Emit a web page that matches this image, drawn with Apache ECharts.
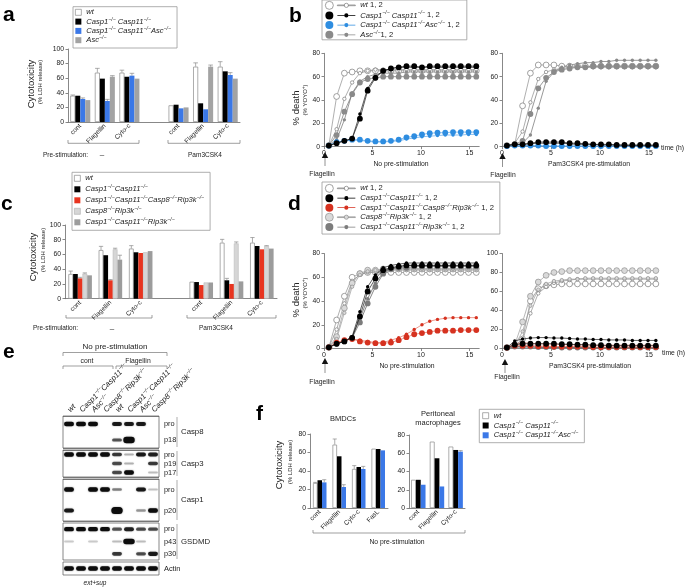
<!DOCTYPE html>
<html><head><meta charset="utf-8">
<script src="https://cdn.jsdelivr.net/npm/echarts@6/dist/echarts.min.js"></script>
<style>html,body{margin:0;padding:0;background:#fff}#c{width:685px;height:587px}</style>
</head><body><div id="c"></div><script>
const FONT = '"Liberation Sans", Arial, Helvetica, sans-serif';
const TXT = '#222';
const AX = '#6a6a6a';

// ================= DATA =================
// ---- panel a (cytotoxicity, % LDH release) ----
const catsA = ['cont', 'Flagellin', 'Cyto-c', '', 'cont ', 'Flagellin ', 'Cyto-c '];
const a_wt   = [36, 67.6, 67.6, null, 22.8, 75.8, 75.8];
const a_wtE  = [37, 73.5, 71, null, null, 81, 82.6];
const a_dko  = [36, 59.4, 62, null, 23.7, 25.6, 69.4];
const a_dkoE = [null, null, null, null, null, null, null];
const a_tko  = [31.5, 28.8, 63.5, null, 18.7, 17.4, 64.4];
const a_tkoE = [33, 31, 66.7, null, null, null, 67.6];
const a_asc  = [30, 62, 59.4, null, 20, 75.8, 59.4];
const a_ascE = [null, 63.5, null, null, null, 78, null];

// ---- panel c ----
const catsC = ['cont', 'Flagellin', 'Cyto-c', '', 'cont ', 'Flagellin ', 'Cyto-c '];
const c_wt   = [33.5, 66, 68, null, 23, 76, 76];
const c_wtE  = [37.5, 71, 72, null, null, 80.5, 83];
const c_dko  = [33.5, 59, 63, null, 22.6, 25, 71.5];
const c_dkoE = [null, null, null, null, null, 27.6, null];
const c_red  = [27.6, 25, 62, null, 18.5, 20, 67];
const c_redE = [29, 26, null, null, null, null, null];
const c_c8   = [34, 67, 63, null, 22, 75, 71.5];
const c_c8E  = [35, 68.5, null, null, null, 77, 72];
const c_r3   = [31.7, 53, 64.6, null, 22, 23.5, 68];
const c_r3E  = [null, 59, null, null, null, null, null];

// ---- panel f ----
const catsF1 = ['cont', 'Flagellin', 'Cyto-c', 'FasL'];
const f1_wt   = [27, 68.5, 42.2, 64.1];
const f1_wtE  = [27.7, 74.6, 45.8, null];
const f1_dko  = [30, 55.9, 44.3, 63.8];
const f1_dkoE = [null, null, null, null];
const f1_tko  = [27.7, 22.7, 42.2, 62.3];
const f1_tkoE = [30.6, 25.2, 45, null];
const catsF2 = ['cont', 'Flagellin', 'Cyto-c'];
const f2_wt   = [30.9, 72.7, 67.3];
const f2_wtE  = [null, null, null];
const f2_dko  = [30.9, 54.5, 63.6];
const f2_dkoE = [null, null, null];
const f2_tko  = [25.5, 23.6, 61.8];
const f2_tkoE = [null, null, 62.9];

// ---- panels b & d (time courses, % death) ----
const times = [0.5, 1.3, 2.1, 2.9, 3.7, 4.5, 5.3, 6.1, 6.9, 7.7, 8.5, 9.3, 10.1, 10.9, 11.7, 12.5, 13.3, 14.1, 14.9, 15.7];
const xTickVals = [0, 5, 10, 15];
// b, no pre-stimulation
const b1_wt1  = [1, 43, 63, 64, 65, 65, 65, 65, 65, 65, 65, 65, 65, 65, 65, 65, 65, 65, 65, 65];
const b1_wt2  = [1, 15, 41, 55, 63, 65, 66, 66, 66, 66, 66, 66, 66, 66, 66, 66, 66, 66, 66, 66];
const b1_dko1 = [1, 3, 5, 7, 24, 48, 59, 65, 67, 68, 69, 69, 68, 69, 69, 69, 69, 69, 69, 69];
const b1_dko2 = [1, 3, 5, 7, 28, 50, 60, 65, 67, 68, 68, 68, 68, 68, 68, 68, 68, 68, 68, 68];
const b1_tko1 = [1, 4, 5, 6, 6, 5, 4.5, 4.5, 5, 6, 8, 9, 10.5, 11.5, 12, 12, 12.5, 12.5, 12.5, 12.5];
const b1_tko2 = [1, 4, 5, 5.5, 5.5, 4.5, 4, 4, 4.5, 5, 6.5, 7.5, 8.5, 9, 9.5, 10, 10, 10, 10.5, 10.5];
const b1_asc1 = [1, 10, 30, 45, 55, 58, 59, 60, 60, 60, 60, 60, 60, 60, 60, 60, 60, 60, 60, 60];
const b1_asc2 = [1, 6, 23, 46, 56, 60, 62, 63, 63, 63, 64, 64, 64, 64, 64, 64, 64, 64, 64, 64];
// b, Pam3CSK4 pre-stimulation
const b2_wt1  = [1, 2, 35, 63, 70, 70, 70, 69, 69, 69, 69, 69, 69, 69, 69, 69, 69, 69, 69, 69];
const b2_wt2  = [1, 3, 13, 38, 58, 64, 66, 67, 68, 68, 68, 68, 68, 68, 68, 68, 68, 68, 68, 68];
const b2_dko1 = [1, 2, 2, 3, 4, 4, 4, 4, 3, 3, 2.5, 2, 2, 2, 1.5, 1.5, 1.5, 1.5, 1.5, 1.5];
const b2_dko2 = [1, 2, 2, 2.5, 3, 3, 3, 3, 2.5, 2, 2, 2, 1.5, 1.5, 1.5, 1, 1, 1, 1, 1];
const b2_tko1 = [0.5, 1, 1, 1, 1, 0.5, 0.5, 0.5, 0.5, 0.5, 0.5, 0.5, 0.5, 0.5, 0.5, 0.5, 0.5, 0.5, 0.5, 0.5];
const b2_tko2 = [0.5, 0.5, 0.5, 0.5, 0.5, 0.5, 0.5, 0.5, 0.5, 0.5, 0.5, 0.5, 0.5, 0.5, 0.5, 0.5, 0.5, 0.5, 0.5, 0.5];
const b2_asc1 = [1, 2, 5, 28, 50, 59, 64, 66, 67, 68, 68, 69, 69, 69, 69, 69, 69, 69, 69, 69];
const b2_asc2 = [1, 1, 3, 10, 33, 56, 64, 68, 70, 71, 72, 72, 73, 73, 74, 74, 74, 74, 74, 74];
// d, no pre-stimulation
const d1_wt1  = [1, 24, 44, 60, 63, 64, 64, 64, 64, 64, 64, 64, 64, 64, 64, 64, 64, 64, 64, 64];
const d1_wt2  = [1, 16, 38, 57, 62, 64, 65, 65, 66, 66, 66, 66, 66, 66, 66, 66, 66, 66, 66, 66];
const d1_dko1 = [1, 4, 6, 9, 27, 48, 59, 66, 68, 69, 70, 70, 70, 70, 70, 70, 70, 70, 70, 70];
const d1_dko2 = [1, 4, 6, 10, 31, 52, 62, 68, 70, 71, 72, 72, 72, 72, 72, 72, 72, 72, 72, 72];
const d1_red1 = [1, 5, 7, 8, 6, 5, 4.5, 4.5, 5, 7, 9.5, 12, 13, 14, 15, 15, 15, 15.5, 15.5, 15.5];
const d1_red2 = [1, 5, 7, 8, 7, 6, 5, 5, 7, 9, 12, 16, 20, 23, 24.5, 25.5, 26, 26, 26, 26];
const d1_c81  = [1, 10, 34, 55, 63, 66, 66, 67, 67, 67, 67, 67, 67, 67, 67, 67, 67, 67, 67, 67];
const d1_c82  = [1, 8, 30, 52, 62, 65, 66, 66, 67, 67, 67, 67, 67, 67, 67, 67, 67, 67, 67, 67];
const d1_r31  = [1, 4, 6, 9, 22, 38, 52, 63, 67, 68, 68, 69, 69, 69, 69, 69, 69, 69, 69, 69];
const d1_r32  = [1, 4, 6, 10, 25, 42, 55, 64, 68, 69, 70, 70, 70, 70, 70, 70, 70, 70, 70, 70];
// d, Pam3CSK4 pre-stimulation
const d2_wt1  = [1, 3, 10, 50, 63, 66, 67, 68, 68, 68, 68, 68, 68, 68, 68, 68, 68, 68, 68, 68];
const d2_wt2  = [1, 2, 8, 37, 58, 65, 69, 71, 72, 73, 73, 73, 73, 73, 73, 73, 73, 73, 73, 73];
const d2_dko1 = [1, 4, 5, 5, 5, 5, 5, 4.5, 4.5, 4, 4, 3.5, 3.5, 3, 3, 3, 3, 3, 3, 3];
const d2_dko2 = [1, 8, 10, 11, 11.5, 11.5, 11, 11, 10.5, 10, 10, 9.5, 9.5, 9, 9, 9, 8.5, 8.5, 8.5, 8.5];
const d2_red1 = [1, 3, 3, 3, 2.5, 2.5, 2, 2, 2, 2, 2, 1.5, 1.5, 1.5, 1.5, 1.5, 1.5, 1.5, 1.5, 1.5];
const d2_red2 = [1, 5, 6, 5.5, 5, 5, 4.5, 4.5, 4, 4, 4, 3.5, 3.5, 3.5, 3.5, 3.5, 3.5, 3.5, 3.5, 3.5];
const d2_c81  = [1, 4, 28, 55, 70, 77, 80, 81, 82, 82, 82, 82, 82, 82, 82, 82, 82, 82, 82, 82];
const d2_c82  = [1, 3, 18, 45, 62, 68, 71, 72, 73, 73, 74, 74, 74, 74, 74, 74, 74, 74, 74, 74];
const d2_r31  = [1, 2, 2, 2, 1.5, 1.5, 1.5, 1, 1, 1, 1, 1, 1, 1, 1, 1, 1, 1, 1, 1];
const d2_r32  = [1, 1.5, 1.5, 1.5, 1, 1, 1, 1, 1, 0.5, 0.5, 0.5, 0.5, 0.5, 0.5, 0.5, 0.5, 0.5, 0.5, 0.5];

// ---- panel e (immunoblot band intensities per lane) ----
const lanes = ['wt', 'dko', 'asc', 'c8', 'wt ', 'dko ', 'asc ', 'c8 '];
const casp8Rows = ['pro', 'p18'];
const casp8_pro = [1, 1, 1, 0, 0.9, 0.9, 0.9, 0];
const casp8_p18 = [0, 0, 0, 0, 0.55, 1.6, 0, 0];
const casp3Rows = ['pro', 'p19', 'p17'];
const casp3_pro = [1, 1, 1, 1, 0.7, 0.15, 0.9, 0.85];
const casp3_p19 = [0, 0, 0, 0, 0.6, 0.15, 0, 0.7];
const casp3_p17 = [0, 0, 0, 0, 0.6, 1, 0, 0.1];
const casp1Rows = ['pro', 'p20'];
const casp1_pro = [1, 0, 1, 1, 0.35, 0, 0.9, 0.08];
const casp1_p20 = [0.9, 0, 0, 0, 1.8, 0, 0.25, 1];
const gsdmdRows = ['pro', 'p43', 'p30'];
const gsdmd_pro = [1, 1, 1, 1, 0.55, 0.85, 0.6, 0.6];
const gsdmd_p43 = [0.05, 0, 0.05, 0, 0.1, 1.4, 0.1, 0];
const gsdmd_p30 = [0, 0, 0, 0, 0.7, 0, 0.6, 0.9];
const actinRows = ['Actin'];
const actin_row = [1, 1, 1, 1, 1, 1, 1, 1];

// ================= STYLES / HELPERS =================
const ST = {
  wt:  {color: '#ffffff', borderColor: '#8a8a8a', borderWidth: 0.7},
  dko: {color: '#000000'},
  tko: {color: '#3b78e7'},
  asc: {color: '#a3a3a3'},
  red: {color: '#e8341f'},
  c8:  {color: '#d6d6d6', borderColor: '#b4b4b4', borderWidth: 0.5},
  r3:  {color: '#9c9c9c'}
};
const LS = {
  wt:  {item: {color: '#fff', borderColor: '#7a7a7a', borderWidth: 0.7}, line: '#8c8c8c'},
  dko: {item: {color: '#000', borderWidth: 0}, line: '#1a1a1a'},
  tko: {item: {color: '#2e8de0', borderWidth: 0}, line: '#5aa5e8'},
  asc: {item: {color: '#8a8a8a', borderWidth: 0}, line: '#6d6d6d'},
  red: {item: {color: '#d63220', borderWidth: 0}, line: '#e2705f'},
  c8:  {item: {color: '#d9d9d9', borderColor: '#8f8f8f', borderWidth: 0.7}, line: '#9a9a9a'},
  r3:  {item: {color: '#7c7c7c', borderWidth: 0}, line: '#555'}
};
const BORDERED = {wt: 1, c8: 1, Lwt2: 1, Lc82: 1};
const SUP = '−/−';
function RICH(fs) {
  return {
    i: {fontStyle: 'italic', fontSize: fs, fontFamily: FONT, color: TXT, lineHeight: 10},
    s: {fontStyle: 'italic', fontSize: fs * 0.68, fontFamily: FONT, color: TXT, lineHeight: 5, verticalAlign: 'top'},
    n: {fontSize: fs, fontFamily: FONT, color: TXT, lineHeight: 10}
  };
}
const grids = [], xAxes = [], yAxes = [], series = [], legends = [], graphics = [];

function valueY(gi, max) {
  return {type: 'value', gridIndex: gi, min: 0, max: max, interval: 20,
    axisLine: {show: true, lineStyle: {color: AX, width: 0.8}},
    axisTick: {show: true, length: 2.5, lineStyle: {color: AX, width: 0.8}},
    axisLabel: {fontSize: 6.8, fontFamily: FONT, color: TXT, margin: 4}, splitLine: {show: false}};
}

function barPanel(rect, cats, yMax, defs, barW) {
  const gi = grids.length;
  grids.push(Object.assign({outerBoundsMode: 'none', containLabel: false}, rect));
  xAxes.push({type: 'category', gridIndex: gi, data: cats,
    axisLine: {show: true, lineStyle: {color: AX, width: 0.8}}, axisTick: {show: false}, splitLine: {show: false},
    axisLabel: {interval: 0, rotate: 45, fontSize: 6.6, fontFamily: FONT, color: TXT, margin: 3, formatter: v => v.trim()}});
  yAxes.push(valueY(gi, yMax));
  const n = defs.length, err = [];
  defs.forEach((d, k) => {
    series.push({type: 'bar', name: d.name, xAxisIndex: gi, yAxisIndex: gi, data: d.v, barWidth: barW, barGap: '0%',
      itemStyle: d.style, emphasis: {disabled: true}});
    d.e.forEach((e, ci) => { if (e != null && d.v[ci] != null) err.push([ci, d.v[ci], e, k]); });
  });
  series.push({type: 'custom', xAxisIndex: gi, yAxisIndex: gi, data: err, encode: {x: 0, y: [1, 2]}, z: 5,
    renderItem: (p, api) => {
      const ci = api.value(0), v = api.value(1), e = api.value(2), k = api.value(3);
      const a = api.coord([ci, v]), b = api.coord([ci, e]);
      const x = a[0] + (k - (n - 1) / 2) * barW;
      const hw = barW / 2 - 0.2;
      return {type: 'group', children: [
        {type: 'line', shape: {x1: x, y1: a[1], x2: x, y2: b[1]}, style: {stroke: '#8a8a8a', lineWidth: 0.7}},
        {type: 'line', shape: {x1: x - hw, y1: b[1], x2: x + hw, y2: b[1]}, style: {stroke: '#8a8a8a', lineWidth: 0.7}}
      ]};
    }});
}

function linePanel(rect, yMax, defs) {
  const gi = grids.length;
  grids.push(Object.assign({outerBoundsMode: 'none', containLabel: false}, rect));
  xAxes.push({type: 'value', gridIndex: gi, min: 0, max: 16,
    axisLine: {show: true, onZero: false, lineStyle: {color: AX, width: 0.8}},
    axisTick: {show: true, length: 2.5, customValues: xTickVals, lineStyle: {color: AX, width: 0.8}},
    axisLabel: {customValues: xTickVals, fontSize: 7, fontFamily: FONT, color: TXT, margin: 3}, splitLine: {show: false}});
  yAxes.push(valueY(gi, yMax));
  defs.forEach(d => {
    const st = LS[d.k];
    series.push({type: 'line', name: d.name, xAxisIndex: gi, yAxisIndex: gi,
      data: times.map((t, i) => [t, d.v[i]]), symbol: 'circle', symbolSize: d.big ? 5.8 : 3.4, showSymbol: true,
      itemStyle: st.item, lineStyle: {color: st.line, width: 0.7}, emphasis: {disabled: true}, z: d.z || 2});
  });
}

const laneText = {
  wt: '{i|wt}', dko: '{i|Casp1}{s|' + SUP + '}{i|Casp11}{s|' + SUP + '}',
  asc: '{i|Asc}{s|' + SUP + '}', c8: '{i|Casp8}{s|' + SUP + '}{i|Rip3k}{s|' + SUP + '}'
};
function bandRender(p, api) {
  const l = api.value(0), r = api.value(1), I = api.value(2);
  const c = api.coord([l, r]);
  const sz = api.size([1, 1]);
  const laneW = sz[0], rowH = sz[1];
  const heavy = I > 1, k = Math.min(I, 1);
  const w = laneW * (heavy ? 0.95 : 0.82);
  const h = heavy ? Math.min(rowH * 0.85, 4 * I) : (1.8 + 2.6 * k);
  return {type: 'rect', shape: {x: c[0] - w / 2, y: c[1] - h / 2, width: w, height: h, r: h / 2},
    style: {fill: '#0c0c0c', opacity: 0.12 + 0.88 * k, shadowBlur: 1.6, shadowColor: 'rgba(0,0,0,0.5)'}};
}
function blotBlock(rect, rows, bands, showLanes, dividers) {
  const gi = grids.length;
  grids.push(Object.assign({outerBoundsMode: 'none', containLabel: false, show: true, borderColor: '#555', borderWidth: 0.7, backgroundColor: '#fff'}, rect));
  xAxes.push({type: 'category', gridIndex: gi, data: lanes, position: 'top',
    axisLine: {show: false}, axisTick: {show: false}, splitLine: {show: false},
    axisLabel: {show: showLanes, interval: 0, rotate: -45, margin: 5, formatter: v => laneText[v.trim()], rich: RICH(7.8)}});
  yAxes.push({type: 'category', gridIndex: gi, data: rows, inverse: true, position: 'right',
    axisLine: {show: false}, axisTick: {show: false},
    axisLabel: {interval: 0, hideOverlap: false, fontSize: 7.4, fontFamily: FONT, color: TXT, margin: 5},
    splitLine: {show: dividers.length > 0, interval: i => dividers.indexOf(i) >= 0, lineStyle: {color: '#555', width: 0.7}}});
  const data = [];
  bands.forEach((arr, r) => arr.forEach((v, l) => { if (v > 0) data.push([l, r, v]); }));
  series.push({type: 'custom', xAxisIndex: gi, yAxisIndex: gi, data: data, renderItem: bandRender, clip: true});
}

function legendBox(o) {
  legends.push({show: true, orient: 'vertical', left: o.left, top: o.top, padding: o.pad, itemGap: o.gap,
    itemWidth: o.iw, itemHeight: o.ih, borderColor: '#9a9a9a', borderWidth: 0.8, selectedMode: false,
    data: o.data.map(n => ({name: n, icon: o.icon, itemStyle: BORDERED[n] ? {borderWidth: 0.7} : {borderWidth: 0}})),
    formatter: n => o.labels[n],
    textStyle: {fontSize: o.fs, fontFamily: FONT, color: TXT, rich: RICH(o.fs)}});
}
function T(x, y, text, o) {
  o = o || {};
  graphics.push({type: 'text', x: x, y: y, rotation: o.rot || 0, silent: true,
    style: {text: text, fill: o.color || TXT, fontSize: o.size || 7, fontFamily: FONT, fontWeight: o.weight || 'normal',
      fontStyle: o.style || 'normal', align: o.align || 'center', verticalAlign: 'middle', rich: o.rich}});
}
function L(points, w) {
  graphics.push({type: 'polyline', silent: true, shape: {points: points}, style: {stroke: '#777', lineWidth: w || 0.7, fill: null}});
}
function ARROW(x, y1, y2) {
  graphics.push({type: 'polygon', silent: true, shape: {points: [[x - 3.2, y1 + 6], [x, y1], [x + 3.2, y1 + 6]]}, style: {fill: '#111'}});
  L([[x, y1 + 6], [x, y2]], 0.8);
}

// ================= BUILD =================
// a
barPanel({left: 68, top: 49, width: 172, height: 73}, catsA, 100, [
  {name: 'wt', v: a_wt, e: a_wtE, style: ST.wt},
  {name: 'dko', v: a_dko, e: a_dkoE, style: ST.dko},
  {name: 'tko', v: a_tko, e: a_tkoE, style: ST.tko},
  {name: 'asc', v: a_asc, e: a_ascE, style: ST.asc}], 5);
// c
barPanel({left: 65, top: 225, width: 212, height: 73.7}, catsC, 100, [
  {name: 'wt', v: c_wt, e: c_wtE, style: ST.wt},
  {name: 'dko', v: c_dko, e: c_dkoE, style: ST.dko},
  {name: 'red', v: c_red, e: c_redE, style: ST.red},
  {name: 'c8', v: c_c8, e: c_c8E, style: ST.c8},
  {name: 'r3', v: c_r3, e: c_r3E, style: ST.r3}], 4.7);
// f
barPanel({left: 310, top: 434, width: 78, height: 74}, catsF1, 80, [
  {name: 'wt', v: f1_wt, e: f1_wtE, style: ST.wt},
  {name: 'dko', v: f1_dko, e: f1_dkoE, style: ST.dko},
  {name: 'tko', v: f1_tko, e: f1_tkoE, style: ST.tko}], 4.5);
barPanel({left: 409, top: 435, width: 56, height: 73}, catsF2, 80, [
  {name: 'wt', v: f2_wt, e: f2_wtE, style: ST.wt},
  {name: 'dko', v: f2_dko, e: f2_dkoE, style: ST.dko},
  {name: 'tko', v: f2_tko, e: f2_tkoE, style: ST.tko}], 4.8);
// b
linePanel({left: 324, top: 53.3, width: 155.2, height: 93.4}, 80, [
  {name: 'Lwt1', k: 'wt', v: b1_wt1, big: true}, {name: 'Lwt2', k: 'wt', v: b1_wt2},
  {name: 'Lasc1', k: 'asc', v: b1_asc1, big: true}, {name: 'Lasc2', k: 'asc', v: b1_asc2},
  {name: 'Ltko1', k: 'tko', v: b1_tko1, big: true}, {name: 'Ltko2', k: 'tko', v: b1_tko2},
  {name: 'Ldko1', k: 'dko', v: b1_dko1, big: true, z: 3}, {name: 'Ldko2', k: 'dko', v: b1_dko2, z: 3}]);
linePanel({left: 502, top: 53.3, width: 156.8, height: 93.4}, 80, [
  {name: 'Lwt1', k: 'wt', v: b2_wt1, big: true}, {name: 'Lwt2', k: 'wt', v: b2_wt2},
  {name: 'Lasc1', k: 'asc', v: b2_asc1, big: true}, {name: 'Lasc2', k: 'asc', v: b2_asc2},
  {name: 'Ltko1', k: 'tko', v: b2_tko1, big: true}, {name: 'Ltko2', k: 'tko', v: b2_tko2},
  {name: 'Ldko1', k: 'dko', v: b2_dko1, big: true, z: 3}, {name: 'Ldko2', k: 'dko', v: b2_dko2, z: 3}]);
// d
linePanel({left: 324, top: 253.5, width: 155.2, height: 95}, 80, [
  {name: 'Lwt1', k: 'wt', v: d1_wt1, big: true}, {name: 'Lwt2', k: 'wt', v: d1_wt2},
  {name: 'Lc81', k: 'c8', v: d1_c81, big: true}, {name: 'Lc82', k: 'c8', v: d1_c82},
  {name: 'Lr31', k: 'r3', v: d1_r31, big: true}, {name: 'Lr32', k: 'r3', v: d1_r32},
  {name: 'Ldko1', k: 'dko', v: d1_dko1, big: true, z: 3}, {name: 'Ldko2', k: 'dko', v: d1_dko2, z: 3},
  {name: 'Lred1', k: 'red', v: d1_red1, big: true}, {name: 'Lred2', k: 'red', v: d1_red2}]);
linePanel({left: 502, top: 253.5, width: 156.8, height: 95}, 100, [
  {name: 'Lwt1', k: 'wt', v: d2_wt1, big: true}, {name: 'Lwt2', k: 'wt', v: d2_wt2},
  {name: 'Lc81', k: 'c8', v: d2_c81, big: true}, {name: 'Lc82', k: 'c8', v: d2_c82},
  {name: 'Lr31', k: 'r3', v: d2_r31, big: true}, {name: 'Lr32', k: 'r3', v: d2_r32},
  {name: 'Lred1', k: 'red', v: d2_red1, big: true}, {name: 'Lred2', k: 'red', v: d2_red2},
  {name: 'Ldko1', k: 'dko', v: d2_dko1, big: true, z: 3}, {name: 'Ldko2', k: 'dko', v: d2_dko2, z: 3}]);
// e
blotBlock({left: 63, top: 416, width: 96, height: 32}, casp8Rows, [casp8_pro, casp8_p18], true, [1]);
blotBlock({left: 63, top: 450, width: 96, height: 27}, casp3Rows, [casp3_pro, casp3_p19, casp3_p17], false, [1]);
blotBlock({left: 63, top: 479, width: 96, height: 42}, casp1Rows, [casp1_pro, casp1_p20], false, [1]);
blotBlock({left: 63, top: 523, width: 96, height: 37}, gsdmdRows, [gsdmd_pro, gsdmd_p43, gsdmd_p30], false, []);
blotBlock({left: 63, top: 562, width: 96, height: 13}, actinRows, [actin_row], false, []);

// legends
const s = (t) => '{s|' + t + '}';
legendBox({left: 73, top: 6.7, pad: [1.6, 6, 3.8, 2], gap: 0.3, iw: 6, ih: 6, fs: 7.6, icon: 'rect',
  data: ['wt', 'dko', 'tko', 'asc'],
  labels: {wt: '{i|wt}', dko: '{i|Casp1}' + s(SUP) + '{i| Casp11}' + s(SUP),
    tko: '{i|Casp1}' + s(SUP) + '{i| Casp11}' + s(SUP) + '{i|Asc}' + s(SUP), asc: '{i|Asc}' + s(SUP)}});
legendBox({left: 72, top: 172.3, pad: [2, 6, 4, 2], gap: 2, iw: 6, ih: 6, fs: 7.6, icon: 'rect',
  data: ['wt', 'dko', 'red', 'c8', 'r3'],
  labels: {wt: '{i|wt}', dko: '{i|Casp1}' + s(SUP) + '{i|Casp11}' + s(SUP),
    red: '{i|Casp1}' + s(SUP) + '{i|Casp11}' + s(SUP) + '{i|Casp8}' + s(SUP) + '{i|Rip3k}' + s(SUP),
    c8: '{i|Casp8}' + s(SUP) + '{i|Rip3k}' + s(SUP),
    r3: '{i|Casp1}' + s(SUP) + '{i|Casp11}' + s(SUP) + '{i|Rip3k}' + s(SUP)}});
legendBox({left: 479.3, top: 409.3, pad: [2.4, 6, 3.4, 3], gap: 0.8, iw: 6, ih: 6, fs: 7.6, icon: 'rect',
  data: ['wt', 'dko', 'tko'],
  labels: {wt: '{i|wt}', dko: '{i|Casp1}' + s(SUP) + '{i| Casp11}' + s(SUP),
    tko: '{i|Casp1}' + s(SUP) + '{i| Casp11}' + s(SUP) + '{i|Asc}' + s(SUP)}});
const LICON = 'path://M0,4a4,4 0 1,0 8,0a4,4 0 1,0 -8,0ZM12,3.65L18.9,3.65L18.9,4.35L12,4.35ZM18.9,4a2.1,2.1 0 1,0 4.2,0a2.1,2.1 0 1,0 -4.2,0ZM23.1,3.65L30,3.65L30,4.35L23.1,4.35Z';
legendBox({left: 322, top: 0, pad: [1, 7, 1, 3], gap: 0.7, iw: 30, ih: 8, fs: 7.6, icon: LICON,
  data: ['Lwt2', 'Ldko2', 'Ltko2', 'Lasc2'],
  labels: {Lwt2: '{i|wt}{n| 1, 2}', Ldko2: '{i|Casp1}' + s(SUP) + '{i| Casp11}' + s(SUP) + '{n| 1, 2}',
    Ltko2: '{i|Casp1}' + s(SUP) + '{i| Casp11}' + s(SUP) + '{i|Asc}' + s(SUP) + '{n| 1, 2}',
    Lasc2: '{i|Asc}' + s(SUP) + '{n|1, 2}'}});
legendBox({left: 322, top: 182, pad: [2, 6, 3, 3], gap: 0.5, iw: 30, ih: 8, fs: 7.6, icon: LICON,
  data: ['Lwt2', 'Ldko2', 'Lred2', 'Lc82', 'Lr32'],
  labels: {Lwt2: '{i|wt}{n| 1, 2}', Ldko2: '{i|Casp1}' + s(SUP) + '{i|Casp11}' + s(SUP) + '{n| 1, 2}',
    Lred2: '{i|Casp1}' + s(SUP) + '{i|Casp11}' + s(SUP) + '{i|Casp8}' + s(SUP) + '{i|Rip3k}' + s(SUP) + '{n| 1, 2}',
    Lc82: '{i|Casp8}' + s(SUP) + '{i|Rip3k}' + s(SUP) + '{n| 1, 2}',
    Lr32: '{i|Casp1}' + s(SUP) + '{i|Casp11}' + s(SUP) + '{i|Rip3k}' + s(SUP) + '{n| 1, 2}'}});

// ---- annotations ----
const R90 = Math.PI / 2;
const yRich = {s: {fontSize: 4.6, fontFamily: FONT, color: TXT, verticalAlign: 'top', lineHeight: 4}, n: {fontSize: 6, fontFamily: FONT, color: TXT, lineHeight: 8}};
// panel letters
T(3, 15.5, 'a', {size: 21, weight: 'bold', align: 'left', color: '#000'});
T(289, 16.5, 'b', {size: 21, weight: 'bold', align: 'left', color: '#000'});
T(1, 204.5, 'c', {size: 21, weight: 'bold', align: 'left', color: '#000'});
T(288, 204.5, 'd', {size: 21, weight: 'bold', align: 'left', color: '#000'});
T(3, 352.5, 'e', {size: 21, weight: 'bold', align: 'left', color: '#000'});
T(256, 414.5, 'f', {size: 21, weight: 'bold', align: 'left', color: '#000'});
// y titles
[[31, 84, 40.5, 82], [33, 257, 43, 250], [279, 465, 290, 462]].forEach(p => {
  T(p[0], p[1], 'Cytotoxicity', {size: 9.5, rot: R90});
  T(p[2], p[3], '(% LDH release)', {size: 6, rot: R90});
});
[[296, 108, 305.5, 100], [296, 300, 305.5, 293]].forEach(p => {
  T(p[0], p[1], '% death', {size: 9.5, rot: R90});
  T(p[2], p[3], '{n|(% YOYO}{s|+}{n|)}', {size: 6, rot: R90, rich: yRich});
});
// a / c group brackets and pre-stimulation rows
L([[68, 140], [68, 143.3], [139, 143.3], [139, 140]]);
L([[168, 140], [168, 143.3], [240, 143.3], [240, 140]]);
T(43, 155, 'Pre-stimulation:', {size: 6.5, align: 'left'});
T(102, 155, '–', {size: 8});
T(205, 155, 'Pam3CSK4', {size: 6.5});
L([[66, 315], [66, 318], [152, 318], [152, 315]]);
L([[187, 315], [187, 318], [276, 318], [276, 315]]);
T(33, 328.5, 'Pre-stimulation:', {size: 6.5, align: 'left'});
T(112, 329, '–', {size: 8});
T(216, 328.5, 'Pam3CSK4', {size: 6.5});
// b / d annotations
T(401, 164, 'No pre-stimulation', {size: 6.8});
T(589, 164, 'Pam3CSK4 pre-stimulation', {size: 6.8});
T(661, 148, 'time (h)', {size: 6.8, align: 'left'});
ARROW(325, 152, 166); T(322, 174.5, 'Flagellin', {size: 6.8});
ARROW(502.5, 153, 167); T(503, 175.5, 'Flagellin', {size: 6.8});
T(407, 366, 'No pre-stimulation', {size: 6.8});
T(590, 366, 'Pam3CSK4 pre-stimulation', {size: 6.8});
T(662, 353, 'time (h)', {size: 6.8, align: 'left'});
ARROW(325, 358, 373); T(322, 382, 'Flagellin', {size: 6.8});
ARROW(505, 359, 373); T(507, 377.5, 'Flagellin', {size: 6.8});
// e annotations
T(115, 347, 'No pre-stimulation', {size: 8});
L([[63, 356], [63, 352.5], [167, 352.5], [167, 356]]);
T(87, 361, 'cont', {size: 6.8});
T(138, 361, 'Flagellin', {size: 6.8});
L([[63, 369], [63, 366], [113, 366], [113, 369]]);
L([[116, 369], [116, 366], [167, 366], [167, 369]]);
[[416, 448, 'Casp8'], [450, 477, 'Casp3'], [479, 521, 'Casp1'], [523, 560, 'GSDMD']].forEach(b => {
  L([[177, b[0] + 1], [177, b[1] - 1]], 0.6);
  T(181, (b[0] + b[1]) / 2, b[2], {size: 7.8, align: 'left'});
});
T(95, 583, 'ext+sup', {size: 6.5, style: 'italic'});
// f annotations
T(343, 419, 'BMDCs', {size: 7.5});
T(438, 414, 'Peritoneal', {size: 7.5});
T(438, 423, 'macrophages', {size: 7.5});
L([[313, 530], [313, 533], [465, 533], [465, 530]]);
T(397, 542, 'No pre-stimulation', {size: 6.8});

const chart = echarts.init(document.getElementById('c'), null, {renderer: 'canvas'});
chart.setOption({
  animation: false, backgroundColor: '#fff', textStyle: {fontFamily: FONT},
  grid: grids, xAxis: xAxes, yAxis: yAxes, series: series, legend: legends,
  graphic: {elements: graphics}
});
</script></body></html>
